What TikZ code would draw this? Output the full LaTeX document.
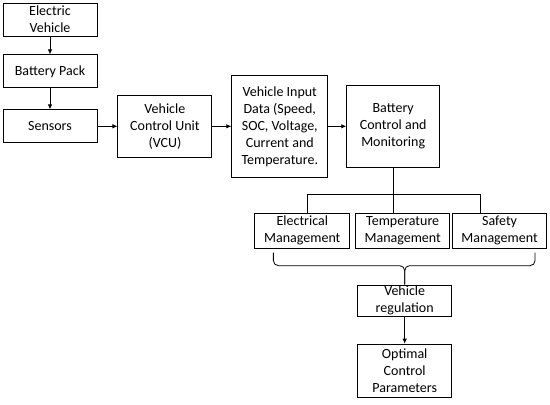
\documentclass[tikz,border=0pt]{standalone}
\usepackage{fontspec}
\setmainfont{Carlito}
\usetikzlibrary{arrows.meta,positioning}

\begin{document}
\begin{tikzpicture}[
    node distance=20pt,
    every node/.style={draw, line width=0.9pt, align=center, inner sep=1pt, font=\fontsize{14}{17}\selectfont},
    box/.style={minimum width=94pt, minimum height=33pt},
    link/.style={line width=0.8pt},
    arrow/.style={link, -{Latex[length=5pt,width=4.5pt]}}
]
\useasboundingbox (0,0) rectangle (550pt,-405pt);

\node[box] (ev) at (50pt,-19.5pt) {Electric\\Vehicle};
\node[box, below=18pt of ev] (bp) {Battery Pack};
\node[box, below=21pt of bp] (sen) {Sensors};
\node[box, minimum height=62pt, right=20pt of sen] (vcu) {Vehicle\\Control Unit\\(VCU)};
\node[box, minimum width=96pt, minimum height=102pt, right=19pt of vcu] (vid) {Vehicle Input\\Data (Speed,\\SOC, Voltage,\\Current and\\Temperature.};
\node[box, minimum width=93pt, minimum height=82pt, right=18pt of vid] (bcm) {Battery\\Control and\\Monitoring};

\node[box, minimum height=35pt, below=45pt of bcm, xshift=9.5pt] (tm) {Temperature\\Management};
\node[box, minimum width=95pt, minimum height=35pt, left=5pt of tm] (em) {Electrical\\Management};
\node[box, minimum height=35pt, right=2pt of tm] (sm) {Safety\\Management};
\node[box, minimum height=31pt, below=36pt of tm, xshift=2pt] (reg) {Vehicle\\regulation};
\node[box, minimum height=53pt, below=27pt of reg] (ocp) {Optimal\\Control\\Parameters};

% Connections
\draw[arrow] (ev) -- (bp);
\draw[arrow] (bp) -- (sen);
\draw[arrow] (sen) -- (vcu);
\draw[arrow] (vcu) -- (vid);
\draw[arrow] (vid) -- (bcm);
\draw[arrow] (reg) -- (ocp);

% Split to the three management blocks
\coordinate[below=27pt of bcm] (fork);
\draw[link] (bcm) -- (bcm.south |- tm.north);
\draw[link] ([xshift=5.5pt]em.north) |- (fork) -| ([xshift=-19pt]sm.north);

% Brace joining them again
\coordinate[below=4pt of em.south west, xshift=19pt] (braceL);
\coordinate[below=4pt of sm.south east, xshift=-12pt] (braceR);
\draw[link, rounded corners=5pt] (braceL) |- ([yshift=19pt]reg.north) -- (reg.north);
\draw[link, rounded corners=5pt] (braceR) |- ([yshift=19pt]reg.north) -- (reg.north);

\end{tikzpicture}
\end{document}
